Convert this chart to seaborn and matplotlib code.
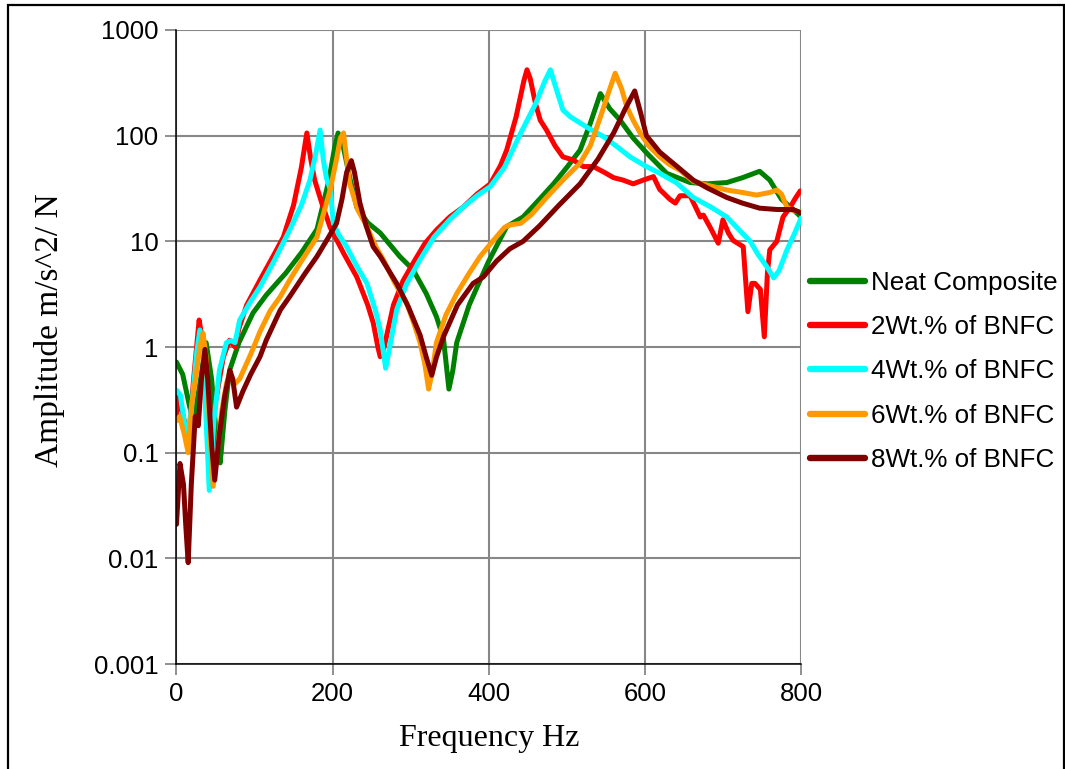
import numpy as np
import pandas as pd
import matplotlib
matplotlib.use("Agg")
import matplotlib.pyplot as plt
import seaborn as sns
from matplotlib.ticker import FuncFormatter, NullLocator, FixedLocator
from matplotlib.patches import Rectangle

# ---------------- data ----------------
neat_f = [0, 8, 17, 22, 30, 38, 45, 52, 56, 62, 68, 80, 98, 115, 132, 140, 160, 180, 195, 203,
          207, 212, 222, 231, 245, 261, 286, 303, 320, 333, 342, 349, 354, 359, 375, 389, 400,
          423, 444, 465, 483, 500, 517, 530, 543, 555, 568, 585, 602, 628, 658, 680, 705, 725,
          747, 760, 775, 790, 800]
neat_a = [0.72, 0.55, 0.27, 0.2, 0.45, 1.1, 0.5, 0.12, 0.08, 0.25, 0.6, 1.1, 2.1, 3.1, 4.3, 5.0,
          7.8, 13, 37, 80, 106, 90, 40, 21, 15, 12, 7.2, 5.4, 3.2, 1.94, 1.2, 0.4, 0.6, 1.1, 2.5,
          4.3, 6.5, 13.8, 17, 25, 35, 50, 73, 130, 250, 180, 141, 95, 69, 44, 36, 35, 36, 40,
          46, 38, 25, 20, 17]

wt2_f = [0, 3, 10, 15, 22, 29, 33, 38, 42, 50, 60, 68, 75, 80, 90, 107, 125, 137, 150, 160, 167,
         172, 177, 187, 197, 215, 231, 245, 252, 258, 261, 266, 278, 290, 303, 318, 333, 350, 367,
         385, 402, 415, 423, 435, 445, 449, 453, 460, 466, 474, 485, 495, 508, 521, 534, 548, 560,
         572, 585, 598, 611, 619, 624, 632, 639, 645, 658, 671, 675, 685, 694, 700, 707, 713, 726,
         732, 737, 741, 748, 753, 757, 760, 769, 777, 786, 792, 799]
wt2_a = [0.22, 0.35, 0.2, 0.115, 0.5, 1.8, 1.2, 0.3, 0.08, 0.3, 0.8, 1.16, 1.0, 1.5, 2.5, 4.3, 7.5,
         11, 22, 50, 106, 60, 38, 22, 13.5, 7.5, 4.6, 2.5, 1.7, 1.0, 0.81, 1.0, 2.5, 4.2, 6.2, 9.5,
         12.8, 17, 21, 28, 35, 52, 73, 150, 330, 420, 350, 200, 140, 113, 80, 63, 59, 51, 51, 45,
         40, 38, 35, 38, 41, 31, 28.6, 25, 23, 27, 27, 17, 17.7, 13, 9.6, 16, 12, 10.2, 8.9, 2.16,
         4, 4, 3.5, 1.25, 5, 8.3, 10, 17, 21, 25, 30]

wt4_f = [0, 5, 13.5, 20, 26, 30, 34, 38, 42, 48, 55, 64, 70, 75, 81, 95, 107, 125, 145, 160, 171,
         178, 184, 188, 192, 197, 201, 208, 218, 230, 244, 255, 261, 265, 268, 272, 282, 295, 312,
         330, 350, 367, 385, 402, 420, 441, 460, 472, 479, 485, 495, 505, 517, 530, 547, 565, 581,
         600, 619, 640, 662, 685, 705, 720, 735, 745, 756, 765, 772, 782, 792, 800]
wt4_a = [0.39, 0.35, 0.13, 0.3, 0.9, 1.45, 1.0, 0.2, 0.044, 0.2, 0.6, 1.1, 1.15, 1.1, 1.8, 2.7, 3.7,
         6.5, 12.8, 22, 38, 65, 113, 60, 40, 31, 14.8, 11.5, 8.9, 6, 4, 2.2, 1.45, 0.9, 0.63, 0.9,
         2.24, 4, 6.7, 11, 16, 21, 27, 33, 50, 106, 200, 330, 420, 300, 175, 150, 132, 115, 98, 78,
         63, 52, 44, 36, 26, 21, 17, 13, 10, 7.5, 5.8, 4.5, 5.3, 8.3, 12, 16.6]

wt6_f = [0, 4, 10, 15, 20, 26, 30, 34, 38, 42, 47, 52, 58, 64, 68, 75, 81, 95, 107, 120, 133, 145,
         160, 180, 197, 205, 210, 214, 218, 222, 232, 244, 255, 265, 280, 295, 305, 312, 318, 323,
         328, 333, 345, 359, 375, 389, 405, 420, 427, 441, 455, 474, 495, 517, 530, 543, 553, 562,
         570, 577, 585, 594, 605, 619, 632, 645, 662, 680, 705, 725, 743, 760, 769, 775, 782, 790,
         800]
wt6_a = [0.2, 0.22, 0.15, 0.1, 0.3, 0.6, 1.0, 1.35, 0.8, 0.2, 0.048, 0.1, 0.25, 0.45, 0.56, 0.45,
         0.5, 0.85, 1.4, 2.2, 3, 4.3, 6.5, 11, 31, 60, 95, 106, 60, 35, 20, 13.8, 9, 6.7, 4, 2.6,
         1.6, 1.1, 0.7, 0.4, 0.6, 1.1, 2, 3.2, 5, 7.2, 10, 13.5, 14.3, 14.8, 18, 26, 38, 55, 80,
         150, 250, 390, 280, 187, 140, 106, 80, 63, 53, 47, 37, 34, 30.6, 29, 27.4, 29, 30.6, 28,
         21, 19.5, 19]

wt8_f = [0, 4.5, 9, 12, 15, 19, 24, 28, 32, 36.5, 40, 45, 49, 55, 62, 68.5, 72, 77, 85, 95, 107,
         115, 133, 145, 165, 180, 195, 205, 212, 218, 224, 228, 235, 243, 252, 261, 282, 297, 312,
         320, 327, 333, 342, 360, 380, 393, 410, 427, 444, 465, 490, 517, 540, 560, 575, 587, 595,
         602, 619, 640, 662, 680, 705, 725, 747, 770, 790, 800]
wt8_a = [0.021, 0.079, 0.05, 0.02, 0.0091, 0.05, 0.22, 0.18, 0.5, 0.95, 0.5, 0.12, 0.055, 0.15,
         0.35, 0.6, 0.5, 0.27, 0.38, 0.55, 0.81, 1.16, 2.24, 3, 5, 7.2, 11, 14.8, 25, 45, 58, 45,
         23, 14, 8.9, 7.2, 4, 2.4, 1.3, 0.8, 0.54, 0.8, 1.25, 2.5, 4, 4.6, 6.5, 8.5, 10, 14, 22,
         35, 60, 106, 180, 265, 160, 100, 70, 52, 38, 32, 26, 23, 20.6, 20, 20, 18.6]

series_names = ["Neat Composite", "2Wt.% of BNFC", "4Wt.% of BNFC", "6Wt.% of BNFC", "8Wt.% of BNFC"]
series_colors = ["#008000", "#FF0000", "#00FFFF", "#FF9900", "#800000"]
x_ticks = [0, 200, 400, 600, 800]
y_ticks = [0.001, 0.01, 0.1, 1, 10, 100, 1000]

frames = []
for name, f, a in zip(series_names,
                      [neat_f, wt2_f, wt4_f, wt6_f, wt8_f],
                      [neat_a, wt2_a, wt4_a, wt6_a, wt8_a]):
    frames.append(pd.DataFrame({"Frequency": f, "Amplitude": a, "Series": name}))
df = pd.concat(frames, ignore_index=True)

# ---------------- styling ----------------
sns.set_style("white")
plt.rcParams["font.family"] = ["Liberation Sans", "DejaVu Sans"]
plt.rcParams["text.color"] = "black"
plt.rcParams["axes.labelcolor"] = "black"
plt.rcParams["xtick.color"] = "black"
plt.rcParams["ytick.color"] = "black"

fig = plt.figure(figsize=(10.65, 7.69), dpi=100)
ax = fig.add_axes([0.1657, 0.1365, 0.5864, 0.8245])

sns.lineplot(data=df, x="Frequency", y="Amplitude", hue="Series",
             hue_order=series_names, palette=series_colors,
             sort=False, estimator=None, linewidth=3.6, ax=ax, legend=True)

ax.set_yscale("log")
ax.set_xlim(0, 800)
ax.set_ylim(0.001, 1000)
ax.xaxis.set_major_locator(FixedLocator(x_ticks))
ax.yaxis.set_major_locator(FixedLocator(y_ticks))
ax.yaxis.set_minor_locator(NullLocator())
ax.yaxis.set_major_formatter(FuncFormatter(lambda v, p: f"{v:g}"))

ax.grid(True, which="major", color="#878787", linewidth=1.5)
ax.set_axisbelow(True)
for s in ["top", "right"]:
    ax.spines[s].set_visible(False)
for s in ["left", "bottom"]:
    ax.spines[s].set_color("black")
    ax.spines[s].set_linewidth(1.1)

ax.tick_params(axis="both", which="major", direction="out", length=8, width=1.3,
               color="#878787", labelsize=18.5, labelcolor="black", pad=5,
               left=True, bottom=True)

serif = ["Liberation Serif", "DejaVu Serif"]
ax.set_xlabel("Frequency Hz", fontsize=23, family=serif, color="black")
ax.set_ylabel("Amplitude m/s^2/ N", fontsize=24, family=serif, color="black")
ax.xaxis.set_label_coords(0.5, -0.095)
ax.yaxis.set_label_coords(-0.178, 0.527)

handles, labels = ax.get_legend_handles_labels()
ax.get_legend().remove()
for h in handles:
    h.set_linewidth(4.6)
leg = fig.legend(handles, labels, loc="center left", bbox_to_anchor=(810 / 1065, 1 - 371.5 / 769),
                 frameon=False, fontsize=18.7, handlelength=2.1, handletextpad=0.25,
                 labelspacing=0.78, borderpad=0, borderaxespad=0)
for t in leg.get_texts():
    t.set_color("black")

# outer frame
fig.patches.append(Rectangle((8 / 1065, -0.02), (1063.5 - 8) / 1065, 1.02 - 5 / 769,
                             transform=fig.transFigure, fill=False, edgecolor="black",
                             linewidth=1.6, zorder=10))

fig.savefig("out.png", dpi=100)
